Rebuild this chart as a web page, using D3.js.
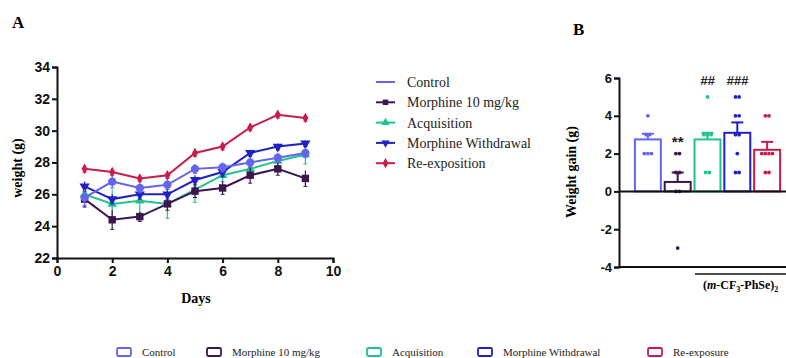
<!DOCTYPE html>
<html>
<head>
<meta charset="utf-8">
<script src="https://cdn.jsdelivr.net/npm/d3@7"></script>
<style>
  body { margin: 0; background: #fff; }
  svg { display: block; }
  .tick text { font-family: "Liberation Sans", Arial, sans-serif; font-weight: bold; font-size: 14px; fill: #111; }
  .serif { font-family: "Liberation Serif", "Times New Roman", serif; }
</style>
</head>
<body>
<svg id="chart" width="786" height="358"></svg>
<script>
// ---- data, panel A (weight by day) ----
var days = [1, 2, 3, 4, 5, 6, 7, 8, 9];
var groupsA = ["Control", "Morphine 10 mg/kg", "Acquisition", "Morphine Withdrawal", "Re-exposition"];
var controlW    = [25.8, 26.8, 26.4, 26.6, 27.6, 27.7, 28.0, 28.3, 28.6];
var morphineW   = [25.7, 24.4, 24.6, 25.4, 26.2, 26.4, 27.2, 27.6, 27.0];
var acquisW     = [26.0, 25.4, 25.6, 25.4, 26.3, 27.2, 27.6, 28.1, 28.5];
var withdrawW   = [26.5, 25.7, 26.0, 26.0, 26.9, 27.4, 28.6, 29.0, 29.2];
var reexpW      = [27.6, 27.4, 27.0, 27.2, 28.6, 29.0, 30.2, 31.0, 30.8];
var controlSem  = [0.5, 0.4, 0.3, 0.3, 0.3, 0.3, 0.3, 0.3, 0.3];
var morphineSem = [0.5, 0.6, 0.3, 0.4, 0.4, 0.4, 0.5, 0.4, 0.5];
var acquisSem   = [0.4, 0.9, 0.8, 0.9, 0.8, 0.4, 0.4, 0.3, 0.6];
var withdrawSem = [0.3, 0.3, 0.3, 0.3, 0.3, 0.3, 0.2, 0.2, 0.2];
var reexpSem    = [0.2, 0.2, 0.2, 0.2, 0.2, 0.2, 0.2, 0.2, 0.2];
var yTicksA = [22, 24, 26, 28, 30, 32, 34];
var xTicksA = [0, 2, 4, 6, 8, 10];

// ---- data, panel B (weight gain) ----
var groupsB = ["Control", "Morphine 10 mg/kg", "Acquisition", "Morphine Withdrawal", "Re-exposure"];
var gainMean = [2.75, 0.5, 2.75, 3.1, 2.2];
var gainSem  = [0.3, 0.5, 0.35, 0.55, 0.42];
var gainPoints = [
  [4, 3, 3, 2, 2, 2],
  [2, 2, 1, 1, 0, 0, -3],
  [5, 3, 3, 3, 1, 1],
  [5, 5, 4, 4, 3, 3, 2, 1, 1],
  [4, 4, 2, 2, 2, 2, 1, 1]
];
var gainMarks = ["", "**", "##", "###", ""];
var yTicksB = [-4, -2, 0, 2, 4, 6];

var colors = ["#6464ee", "#3d1650", "#1fc38c", "#2020c4", "#c81c4c"];

var svg = d3.select("#chart");

// panel letters
svg.append("text").attr("class", "serif").attr("x", 12).attr("y", 28)
  .style("font-size", "17px").style("font-weight", "bold").text("A");
svg.append("text").attr("class", "serif").attr("x", 573).attr("y", 35)
  .style("font-size", "17px").style("font-weight", "bold").text("B");

// ===== panel A =====
var x = d3.scaleLinear().domain([0, 10]).range([57, 333]);
var y = d3.scaleLinear().domain([22, 34]).range([258, 67]);

var gA = svg.append("g");
var yAx = gA.append("g").attr("transform", "translate(57,0)")
  .call(d3.axisLeft(y).tickValues(yTicksA).tickSize(5).tickPadding(2));
var xAx = gA.append("g").attr("transform", "translate(0,258)")
  .call(d3.axisBottom(x).tickValues(xTicksA).tickSize(5).tickPadding(3));
[yAx, xAx].forEach(function(a){
  a.select(".domain").attr("stroke", "#111").attr("stroke-width", 2);
  a.selectAll(".tick line").attr("stroke", "#111").attr("stroke-width", 2);
});

gA.append("text").attr("class", "serif")
  .attr("transform", "translate(22,168) rotate(-90)")
  .attr("text-anchor", "middle").style("font-size", "14px").style("font-weight", "bold")
  .text("weight (g)");
gA.append("text").attr("class", "serif").attr("x", 196).attr("y", 303)
  .attr("text-anchor", "middle").style("font-size", "14px").style("font-weight", "bold")
  .text("Days");

var seriesA = [controlW, morphineW, acquisW, withdrawW, reexpW];
var semA = [controlSem, morphineSem, acquisSem, withdrawSem, reexpSem];
var symbols = [
  d3.symbol().type(d3.symbolCircle).size(55),
  d3.symbol().type(d3.symbolSquare).size(55),
  d3.symbol().type(d3.symbolTriangle).size(40),
  d3.symbol().type(d3.symbolTriangle).size(45),
  d3.symbol().type(d3.symbolDiamond).size(32)
];
var rot = [0, 0, 0, 180, 0];
var line = d3.line().x(function(d, i){ return x(days[i]); }).y(function(d){ return y(d); });

// draw back-to-front so the Control line is on top like the reference
[2, 1, 3, 4, 0].forEach(function(s){
  var g = gA.append("g");
  var col = colors[s];
  g.selectAll("line.err").data(seriesA[s]).enter().append("line")
    .attr("x1", function(d, i){ return x(days[i]); })
    .attr("x2", function(d, i){ return x(days[i]); })
    .attr("y1", function(d, i){ return y(d - semA[s][i]); })
    .attr("y2", function(d, i){ return y(d + semA[s][i]); })
    .attr("stroke", col).attr("stroke-width", 1.2);
  g.selectAll("line.cap").data(seriesA[s]).enter().append("line")
    .attr("x1", function(d, i){ return x(days[i]) - 2; })
    .attr("x2", function(d, i){ return x(days[i]) + 2; })
    .attr("y1", function(d, i){ return y(d - semA[s][i]); })
    .attr("y2", function(d, i){ return y(d - semA[s][i]); })
    .attr("stroke", col).attr("stroke-width", 1);
  g.append("path").datum(seriesA[s]).attr("d", line)
    .attr("fill", "none").attr("stroke", col).attr("stroke-width", 2);
  g.selectAll("path.m").data(seriesA[s]).enter().append("path")
    .attr("d", symbols[s])
    .attr("transform", function(d, i){ return "translate(" + x(days[i]) + "," + y(d) + ") rotate(" + rot[s] + ")"; })
    .attr("fill", col);
});

// legend A
var legA = gA.append("g");
groupsA.forEach(function(name, i){
  var yy = 82 + i * 20.3;
  legA.append("line").attr("x1", 376).attr("x2", 395).attr("y1", yy).attr("y2", yy)
    .attr("stroke", colors[i]).attr("stroke-width", 2);
  if (i > 0) {
    legA.append("path").attr("d", d3.symbol().type([null, d3.symbolSquare, d3.symbolTriangle, d3.symbolTriangle, d3.symbolDiamond][i]).size(30))
      .attr("transform", "translate(385.5," + yy + ") rotate(" + rot[i] + ")")
      .attr("fill", colors[i]);
  }
  legA.append("text").attr("class", "serif").attr("x", 407).attr("y", yy + 5)
    .style("font-size", "14px").attr("fill", "#222").text(name);
});

// ===== panel B =====
var xb = d3.scaleBand().domain(groupsB).range([620, 795]).paddingInner(0.13).paddingOuter(0.5);
var yb = d3.scaleLinear().domain([-4, 6]).range([267, 78]);
var gB = svg.append("g");

var yAxB = gB.append("g").attr("transform", "translate(619,0)")
  .call(d3.axisLeft(yb).tickValues(yTicksB).tickSize(5).tickPadding(2)
    .tickFormat(function(d){ return String(d); }));
yAxB.select(".domain").attr("stroke", "#111").attr("stroke-width", 2);
yAxB.selectAll(".tick line").attr("stroke", "#111").attr("stroke-width", 2);
yAxB.selectAll(".tick text").style("font-size", "13px");

gB.append("text").attr("class", "serif")
  .attr("transform", "translate(576,172) rotate(-90)")
  .attr("text-anchor", "middle").style("font-size", "14px").style("font-weight", "bold")
  .text("Weight gain (g)");

// bars
gB.selectAll("rect.bar").data(gainMean).enter().append("rect")
  .attr("x", function(d, i){ return xb(groupsB[i]); })
  .attr("width", xb.bandwidth())
  .attr("y", function(d){ return yb(d); })
  .attr("height", function(d){ return yb(0) - yb(d); })
  .attr("fill", "#fff").attr("stroke", function(d, i){ return colors[i]; }).attr("stroke-width", 2);

// error bars (upper only)
gainMean.forEach(function(m, i){
  var cx = xb(groupsB[i]) + xb.bandwidth() / 2;
  gB.append("line").attr("x1", cx).attr("x2", cx).attr("y1", yb(m)).attr("y2", yb(m + gainSem[i]))
    .attr("stroke", colors[i]).attr("stroke-width", 2);
  gB.append("line").attr("x1", cx - 6).attr("x2", cx + 6).attr("y1", yb(m + gainSem[i])).attr("y2", yb(m + gainSem[i]))
    .attr("stroke", colors[i]).attr("stroke-width", 2);
});

// individual points
gainPoints.forEach(function(pts, i){
  var cx = xb(groupsB[i]) + xb.bandwidth() / 2;
  var counts = {}, seen = {};
  pts.forEach(function(v){ counts[v] = (counts[v] || 0) + 1; });
  pts.forEach(function(v){
    var k = seen[v] || 0; seen[v] = k + 1;
    var off = (k - (counts[v] - 1) / 2) * 3.6;
    gB.append("circle").attr("cx", cx + off).attr("cy", yb(v)).attr("r", 1.9)
      .attr("fill", colors[i]);
  });
});

// zero line and bottom line
gB.append("line").attr("x1", 619).attr("x2", 786).attr("y1", yb(0)).attr("y2", yb(0))
  .attr("stroke", "#111").attr("stroke-width", 2);
gB.append("line").attr("x1", 619).attr("x2", 786).attr("y1", yb(-4)).attr("y2", yb(-4))
  .attr("stroke", "#111").attr("stroke-width", 2);

// significance marks
gainMarks.forEach(function(t, i){
  if (!t) return;
  var cx = xb(groupsB[i]) + xb.bandwidth() / 2;
  var yy = t === "**" ? yb(2.7) + 7 : yb(5.9) + 5;
  gB.append("text").attr("x", cx).attr("y", yy).attr("text-anchor", "middle")
    .style("font-family", "Liberation Sans, Arial, sans-serif").style("font-size", t === "**" ? "15px" : "13px")
    .style("font-weight", "bold").style("font-style", t === "**" ? "normal" : "italic")
    .attr("fill", "#222").text(t);
});

// treatment bracket
gB.append("line").attr("x1", 695).attr("x2", 786).attr("y1", 274).attr("y2", 274)
  .attr("stroke", "#111").attr("stroke-width", 1.5);
var lab = gB.append("text").attr("class", "serif").attr("x", 703).attr("y", 289)
  .style("font-size", "12px").style("font-weight", "bold");
lab.append("tspan").text("(");
lab.append("tspan").style("font-style", "italic").text("m");
lab.append("tspan").text("-CF");
lab.append("tspan").attr("dy", 3).style("font-size", "8px").text("3");
lab.append("tspan").attr("dy", -3).text("-PhSe)");
lab.append("tspan").attr("dy", 3).style("font-size", "8px").text("2");

// bottom legend
var legX = [117, 207, 367, 478, 648];
var legB = svg.append("g");
groupsB.forEach(function(name, i){
  legB.append("rect").attr("x", legX[i]).attr("y", 348).attr("width", 14).attr("height", 8).attr("rx", 1.5)
    .attr("fill", "#fff").attr("stroke", colors[i]).attr("stroke-width", 1.8);
  legB.append("text").attr("class", "serif").attr("x", legX[i] + 25).attr("y", 356)
    .style("font-size", "11px").attr("fill", "#222").text(name);
});
</script>
</body>
</html>
